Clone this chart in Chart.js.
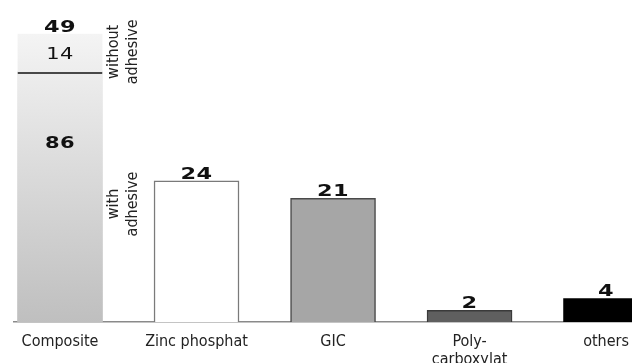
<!DOCTYPE html>
<html>
<head>
<meta charset="utf-8">
<script src="https://cdn.jsdelivr.net/npm/chart.js@4.4.1/dist/chart.umd.min.js"></script>
<style>
    html, body { margin: 0; padding: 0; background: #fff; }
    #kutu { width: 632px; height: 363px; }
</style>
</head>
<body>
<div id="kutu"><canvas id="grafik"></canvas></div>
<script>
const categories = ['Composite', 'Zinc phosphat', 'GIC', ['Poly-', 'carboxylat'], 'others'];
const counts = [49, 24, 21, 2, 4];
// composite split in percent: with adhesive, without adhesive
const compositeSplit = [86, 14];
const splitLabels = [['with', 'adhesive'], ['without', 'adhesive']];

const barColors = [null, '#ffffff', '#a6a6a6', '#5f5f5f', '#000000'];
const barBorders = ['#b5b5b5', '#7a7a7a', '#4a4a4a', '#3a3a3a', '#000000'];

function compositeGradient(context) {
    const chart = context.chart;
    const y = chart.scales.y;
    if (!chart.chartArea || !y) return '#dcdcdc';
    const g = chart.ctx.createLinearGradient(0, y.getPixelForValue(counts[0]), 0, y.getPixelForValue(0));
    g.addColorStop(0, '#f4f4f4');
    g.addColorStop(1, '#bfbfbf');
    return g;
}

function wideText(ctx, text, x, y) {
    ctx.save();
    ctx.translate(x, y);
    ctx.scale(1.4, 1);
    ctx.letterSpacing = '0.3px';
    ctx.textAlign = 'center';
    ctx.fillText(text, 0, 0);
    ctx.restore();
}

function verticalText(ctx, lines, x, y) {
    ctx.save();
    ctx.translate(x, y);
    ctx.rotate(-Math.PI / 2);
    ctx.textAlign = 'center';
    ctx.textBaseline = 'middle';
    lines.forEach((line, j) => ctx.fillText(line, 0, (j - (lines.length - 1) / 2) * 19));
    ctx.restore();
}

const labelPlugin = {
    id: 'etiketler',
    afterDatasetsDraw(chart) {
        const ctx = chart.ctx;
        const withBars = chart.getDatasetMeta(0).data;
        const withoutBar = chart.getDatasetMeta(1).data[0];
        ctx.save();
        ctx.fillStyle = '#111';
        ctx.font = 'bold 16px "DejaVu Sans"';
        ctx.textBaseline = 'alphabetic';
        withBars.forEach((bar, i) => {
            const top = i === 0 ? withoutBar.y : bar.y;
            wideText(ctx, String(counts[i]), bar.x, top - 2);
        });

        // split numbers inside composite
        ctx.font = '15px "DejaVu Sans"';
        ctx.textBaseline = 'middle';
        const divider = withBars[0].y;
        wideText(ctx, String(compositeSplit[1]), withoutBar.x, (withoutBar.y + divider) / 2 + 1);
        ctx.font = 'bold 15px "DejaVu Sans"';
        wideText(ctx, String(compositeSplit[0]), withoutBar.x, divider + 70);

        // rotated side notes
        ctx.font = '16px "DejaVu Sans Condensed"';
        ctx.fillStyle = '#222';
        const right = withoutBar.x + withoutBar.width / 2;
        verticalText(ctx, splitLabels[1], right + 21, (withoutBar.y + divider) / 2 - 2);
        verticalText(ctx, splitLabels[0], right + 21, (divider + withBars[0].base) / 2 + 6);
        ctx.restore();
    }
};

const data = {
    datasets: [
        {
            label: 'with adhesive',
            data: counts.map((v, i) => ({ x: i, y: i === 0 ? v * compositeSplit[0] / 100 : v })),
            backgroundColor: (c) => c.dataIndex === 0 ? compositeGradient(c) : barColors[c.dataIndex],
            borderColor: barBorders,
            borderWidth: [0, 1.5, 1.5, 1.5, 0]
        },
        {
            label: 'without adhesive',
            data: [{ x: 0, y: counts[0] * compositeSplit[1] / 100 }],
            backgroundColor: compositeGradient,
            borderColor: '#111',
            borderWidth: { top: 0, right: 0, bottom: 2, left: 0 },
            borderSkipped: false
        }
    ]
};

const config = {
    type: 'bar',
    data: data,
    options: {
        responsive: true,
        maintainAspectRatio: false,
        animation: false,
        barThickness: 85,
        layout: { padding: { left: 14, right: 0, top: 16, bottom: 0 } },
        plugins: {
            legend: { display: false },
            tooltip: { enabled: false }
        },
        scales: {
            x: {
                type: 'linear',
                stacked: true,
                offset: false,
                min: -0.337,
                max: 4.19,
                grid: { display: false },
                border: { display: true, color: '#8a8a8a', width: 1.5 },
                afterBuildTicks(scale) {
                    scale.ticks = categories.map((c, i) => ({ value: i }));
                },
                ticks: {
                    color: '#222',
                    font: { family: 'DejaVu Sans Condensed', size: 16, lineHeight: 1.125 },
                    padding: 3,
                    maxRotation: 0,
                    autoSkip: false,
                    callback: (value) => categories[value]
                },
                afterFit(scale) { scale.height = 41; }
            },
            y: {
                stacked: true,
                display: false,
                min: 0,
                max: 52
            }
        }
    },
    plugins: [labelPlugin]
};

new Chart(document.getElementById('grafik'), config);
</script>
</body>
</html>
